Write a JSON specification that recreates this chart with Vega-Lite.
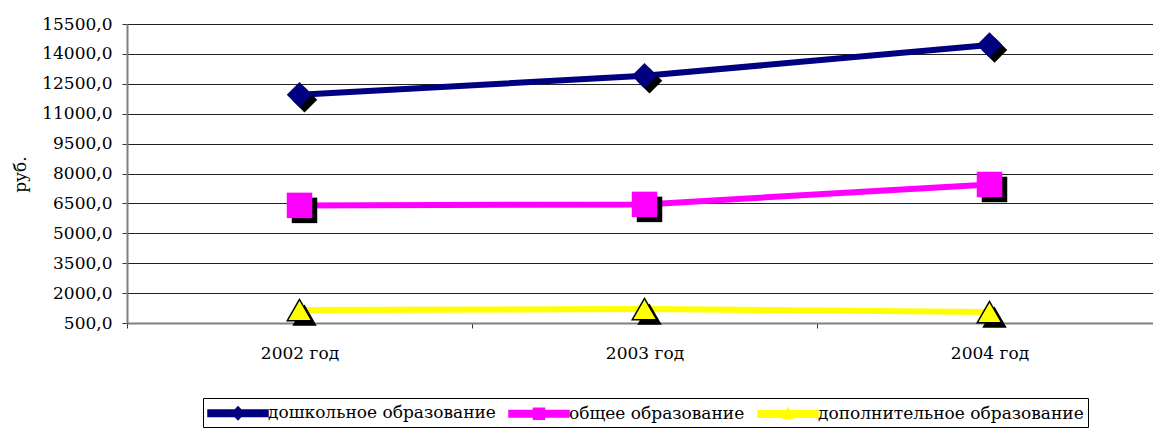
{
  "$schema": "https://vega.github.io/schema/vega-lite/v6.json",
  "autosize": "none",
  "width": 1035,
  "height": 299,
  "padding": {"left": 127, "top": 24, "right": 0, "bottom": 105},
  "background": "white",
  "config": {
    "view": {"stroke": null},
    "font": "DejaVu Serif",
    "axis": {"labelFont": "DejaVu Serif", "titleFont": "DejaVu Serif", "labelColor": "black", "titleColor": "black"}
  },
  "data": {
    "values": [
      {"year": "2002 год", "series": "дошкольное образование", "value": 11950},
      {"year": "2003 год", "series": "дошкольное образование", "value": 12900},
      {"year": "2004 год", "series": "дошкольное образование", "value": 14450},
      {"year": "2002 год", "series": "общее образование", "value": 6400},
      {"year": "2003 год", "series": "общее образование", "value": 6450},
      {"year": "2004 год", "series": "общее образование", "value": 7450},
      {"year": "2002 год", "series": "дополнительное образование", "value": 1150},
      {"year": "2003 год", "series": "дополнительное образование", "value": 1200},
      {"year": "2004 год", "series": "дополнительное образование", "value": 1050}
    ]
  },
  "encoding": {
    "x": {
      "field": "year", "type": "nominal", "bandPosition": 0.5,
      "scale": {"type": "band", "paddingInner": 0, "paddingOuter": 0},
      "axis": {
        "title": null, "labelAngle": 0, "labelFontSize": 17, "labelPadding": 17,
        "tickBand": "extent", "tickSize": 5, "tickColor": "#333",
        "domainColor": "#808080", "domainWidth": 2, "grid": false
      }
    },
    "y": {
      "field": "value", "type": "quantitative",
      "scale": {"domain": [500, 15500], "nice": false, "zero": false},
      "axis": {
        "title": "руб.", "titleFontSize": 17, "titleFontWeight": "normal",
        "titleAngle": -90, "titleX": -107, "titleY": 150, "titleAlign": "center", "titleBaseline": "middle",
        "values": [500, 2000, 3500, 5000, 6500, 8000, 9500, 11000, 12500, 14000, 15500],
        "labelExpr": "replace(format(datum.value, '.1f'), '.', ',')",
        "labelFontSize": 17, "labelPadding": 10, "tickSize": 5, "tickColor": "#333",
        "domainColor": "#808080", "domainWidth": 2,
        "grid": true, "gridColor": "#222", "gridWidth": 1
      }
    }
  },
  "layer": [
    {
      "mark": {"type": "line", "strokeWidth": 6},
      "encoding": {
        "color": {
          "field": "series", "type": "nominal",
          "scale": {
            "domain": ["дошкольное образование", "общее образование", "дополнительное образование"],
            "range": ["#000080", "#FF00FF", "#FFFF00"]
          },
          "legend": {
            "orient": "none", "legendX": 76, "legendY": 374, "direction": "horizontal",
            "title": null, "strokeColor": "black", "fillColor": "white", "padding": 4,
            "symbolSize": 400, "labelOffset": 39, "columnPadding": 10, "labelLimit": 0,
            "labelFont": "DejaVu Serif", "labelFontSize": 17, "labelColor": "black",
            "encode": {
              "symbols": {
                "update": {
                  "shape": {"signal": "datum.value == 'дошкольное образование' ? 'M-1,-0.33H5V0.33H-1Z M2,-0.65L2.6,0L2,0.65L1.4,0Z' : datum.value == 'общее образование' ? 'M-1,-0.33H5V0.33H-1Z M1.45,-0.55H2.55V0.55H1.45Z' : 'M-1,-0.33H5V0.33H-1Z M2,-0.6L2.55,0.45H1.45Z'"},
                  "fill": {"signal": "scale('color', datum.value)"},
                  "stroke": {"value": "transparent"},
                  "opacity": {"value": 1},
                  "fillOpacity": {"value": 1}
                }
              }
            }
          }
        }
      }
    },
    {
      "transform": [{"filter": "datum.series == 'дошкольное образование'"}],
      "mark": {"type": "point", "shape": "diamond", "filled": true, "opacity": 1, "size": 650, "xOffset": 5, "yOffset": 5, "color": "black"}
    },
    {
      "transform": [{"filter": "datum.series == 'дошкольное образование'"}],
      "mark": {"type": "point", "shape": "diamond", "filled": true, "opacity": 1, "size": 650, "color": "#000080"}
    },
    {
      "transform": [{"filter": "datum.series == 'общее образование'"}],
      "mark": {"type": "point", "shape": "square", "filled": true, "opacity": 1, "size": 650, "xOffset": 5, "yOffset": 5, "color": "black"}
    },
    {
      "transform": [{"filter": "datum.series == 'общее образование'"}],
      "mark": {"type": "point", "shape": "square", "filled": true, "opacity": 1, "size": 650, "color": "#FF00FF"}
    },
    {
      "transform": [{"filter": "datum.series == 'дополнительное образование'"}],
      "mark": {"type": "point", "shape": "triangle-up", "filled": true, "opacity": 1, "size": 600, "xOffset": 5, "yOffset": 5, "color": "black"}
    },
    {
      "transform": [{"filter": "datum.series == 'дополнительное образование'"}],
      "mark": {"type": "point", "shape": "triangle-up", "filled": true, "opacity": 1, "size": 600, "fill": "#FFFF00", "stroke": "black", "strokeWidth": 1.5}
    }
  ]
}
